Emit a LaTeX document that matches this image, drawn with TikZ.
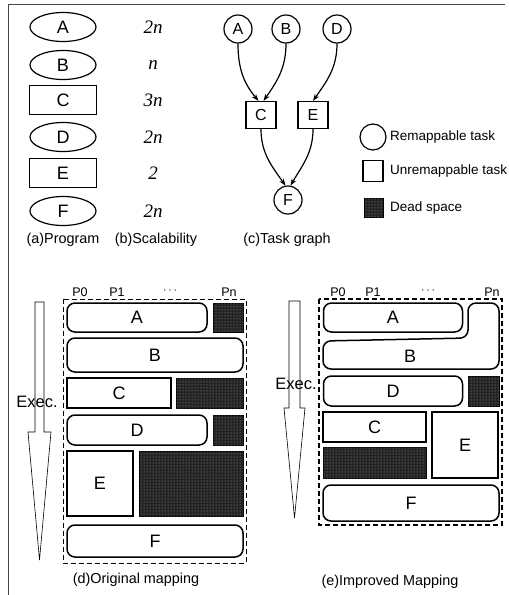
\documentclass[tikz,border=0pt]{standalone}
\usepackage{fontspec}
\setmainfont{Liberation Sans}
\newfontfamily\numfont{Liberation Serif}
\usetikzlibrary{arrows.meta,shapes.geometric,patterns}
\definecolor{myframe}{RGB}{70,70,70}
\definecolor{mydead}{RGB}{35,35,35}

\begin{document}
\begin{tikzpicture}[x=1pt,y=-1pt,
  every node/.style={font=\fontsize{14.4}{16}\selectfont,inner sep=0pt},
  prog/.style={draw,ellipse,line width=1.2pt,minimum width=66pt,minimum height=29pt,font=\fontsize{18}{20}\selectfont},
  progbox/.style={draw,rectangle,line width=1.2pt,minimum width=67pt,minimum height=29pt,font=\fontsize{18}{20}\selectfont},
  scal/.style={font=\numfont\itshape\fontsize{19}{21}\selectfont},
  tnode/.style={draw,circle,line width=1.2pt,minimum size=28pt,font=\fontsize{16}{18}\selectfont},
  tbox/.style={draw,rectangle,line width=1.2pt,minimum width=30pt,minimum height=27pt,font=\fontsize{16}{18}\selectfont},
  edge/.style={line width=1.2pt,-{Stealth[length=7pt,width=5pt]}},
  legtext/.style={anchor=west,font=\fontsize{13.5}{15}\selectfont},
  job/.style={draw,rounded corners=8pt,line width=1.5pt,font=\fontsize{18}{20}\selectfont},
  jobsq/.style={draw,line width=1.5pt,font=\fontsize{18}{20}\selectfont},
  dead/.style={draw=black,line width=0.6pt,fill=mydead,postaction={pattern=dots,pattern color=gray!70}},
  plab/.style={font=\fontsize{12.5}{14}\selectfont},
  execlab/.style={font=\fontsize{16.5}{18}\selectfont},
  mapbox/.style={dashed,dash pattern=on 5pt off 3pt}]
\useasboundingbox (0,0) rectangle (509,595);
\draw[line width=1pt,myframe] (505,4) -- (8,4) -- (8,595);

% (a) program and (b) scalability
\node[prog] (pa) at (63,27) {A};
\node[prog] (pb) at (63,65) {B};
\node[progbox] (pc) at (63,100) {C};
\node[prog] (pd) at (63,137) {D};
\node[progbox] (pe) at (63,173) {E};
\node[prog] (pf) at (63,211) {F};
\node[scal] (sa) at (153,27) {2n};
\node[scal] (sb) at (153,65) {n};
\node[scal] (sc) at (153,100) {3n};
\node[scal] (sd) at (153,137) {2n};
\node[scal] (se) at (153,173) {2};
\node[scal] (sf) at (153,211) {2n};
\node (capa) at (63,240) {(a)Program};
\node (capb) at (156,240) {(b)Scalability};

% (c) task graph
\node[tnode] (ta) at (238,29) {A};
\node[tnode] (tb) at (286,29) {B};
\node[tnode] (td) at (337,29) {D};
\node[tbox] (tc) at (261,115) {C};
\node[tbox] (te) at (313,115) {E};
\node[tnode] (tf) at (288,200) {F};
\draw[edge] (ta.south) to[out=-90,in=130] (tc.100);
\draw[edge] (tb.south) to[out=-90,in=55] (tc.80);
\draw[edge] (td.south) to[out=-90,in=55] (te.north);
\draw[edge] (tc.south) to[out=-90,in=125] (tf.100);
\draw[edge] (te.south) to[out=-90,in=60] (tf.80);
\node (capc) at (287,240) {(c)Task graph};

% legend
\node[tnode,minimum size=26pt] (lgc) at (373,137) {};
\node[tbox,minimum width=20pt,minimum height=21pt] (lgs) at (373,171) {};
\node[dead,minimum size=19pt] (lgd) at (374,208) {};
\node[legtext] (lgct) at (390,137) {Remappable task};
\node[legtext] (lgst) at (390,171) {Unremappable task};
\node[legtext] (lgdt) at (390,208) {Dead space};

% (d) original mapping
\draw[line width=0.6pt] (35,302) -- (44,302) -- (44,432) -- (51,432) -- (39.5,560) -- (28,432) -- (35,432) -- cycle;
\node[execlab] (execd) at (37,402) {Exec.};
\draw[mapbox,line width=0.9pt] (63,299) rectangle (246,563);
\node[plab] (dp0) at (80,292) {P0};
\node[plab] (dp1) at (117,292) {P1};
\node[plab] (dpd) at (170,291) {$\cdots$};
\node[plab] (dpn) at (229,292) {Pn};
\node[job,minimum width=140pt,minimum height=29pt] (da) at (137,317.5) {A};
\node[dead,minimum width=30pt,minimum height=29pt] (dxa) at (228,317.5) {};
\node[job,minimum width=176pt,minimum height=34pt] (db) at (155,355) {B};
\node[jobsq,minimum width=104pt,minimum height=30pt] (dc) at (119,393) {C};
\node[dead,minimum width=67pt,minimum height=30pt] (dxc) at (209.5,393) {};
\node[job,minimum width=140pt,minimum height=30pt] (dd) at (137,430) {D};
\node[dead,minimum width=30pt,minimum height=30pt] (dxd) at (228,430) {};
\node[jobsq,minimum width=66pt,minimum height=65pt] (de) at (100,483.5) {E};
\node[dead,minimum width=104pt,minimum height=65pt] (dxe) at (191,483.5) {};
\node[job,minimum width=176pt,minimum height=32pt] (df) at (155,541) {F};
\node (capd) at (136,580) {(d)Original mapping};

% (e) improved mapping
\draw[line width=0.6pt] (289,301) -- (300,301) -- (300,408) -- (305,408) -- (294.5,518) -- (284,408) -- (289,408) -- cycle;
\node[execlab] (exece) at (296,384) {Exec.};
\draw[mapbox,line width=1.3pt] (319,299) rectangle (502,525);
\node[plab] (ep0) at (338,292) {P0};
\node[plab] (ep1) at (373,292) {P1};
\node[plab] (epd) at (428,291) {$\cdots$};
\node[plab] (epn) at (492,292) {Pn};
\node[job,minimum width=139pt,minimum height=29pt] (ea) at (393,317.5) {A};
\draw[line width=1.5pt,rounded corners=8pt] (400,369) -- (323,369) -- (323,341) -- (468,338) -- (468,303) -- (499,303) -- (499,369) -- cycle;
\node[font=\fontsize{18}{20}\selectfont] (eb) at (410,356) {B};
\node[job,minimum width=139pt,minimum height=30pt] (ed) at (393,391) {D};
\node[dead,minimum width=31pt,minimum height=30pt] (exd) at (483.5,391) {};
\node[jobsq,minimum width=103pt,minimum height=30pt] (ec) at (374.5,427) {C};
\node[dead,minimum width=103pt,minimum height=31pt] (exc) at (374.5,462.5) {};
\node[jobsq,minimum width=66pt,minimum height=66pt] (ee) at (465,445) {E};
\node[job,minimum width=176pt,minimum height=36pt] (ef) at (411,503) {F};
\node (cape) at (390,582) {(e)Improved Mapping};
\end{tikzpicture}
\end{document}
